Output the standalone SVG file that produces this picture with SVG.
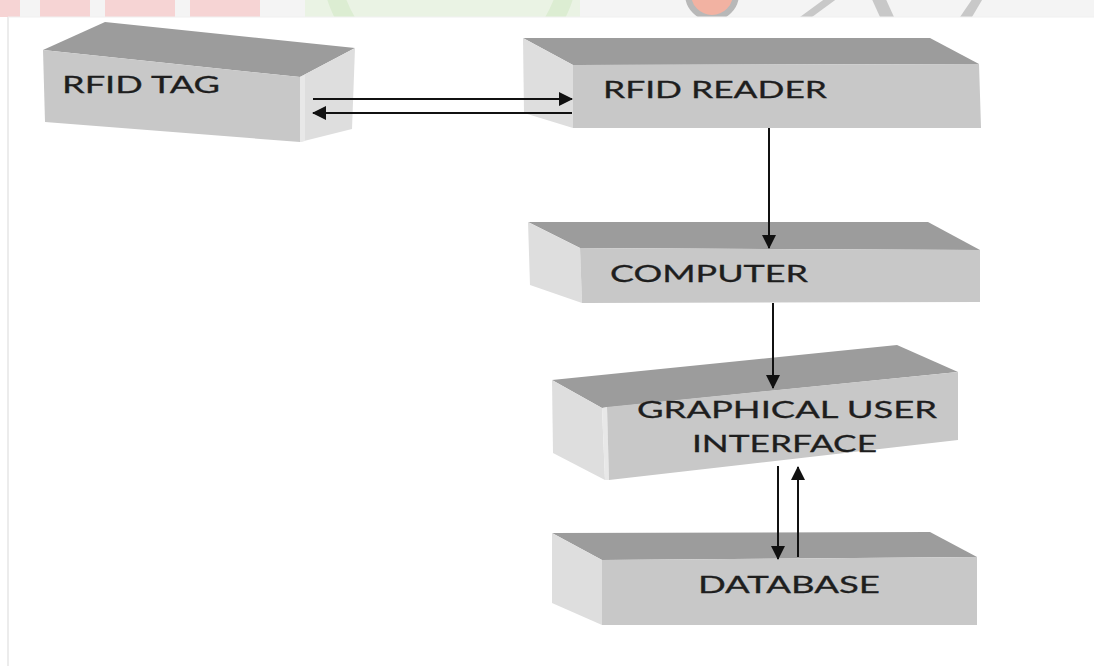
<svg xmlns="http://www.w3.org/2000/svg" width="1094" height="666" viewBox="0 0 1094 666">
<style>
.top{fill:#9c9c9c}
.front{fill:#c8c8c8}
.side{fill:#dedede}
.edge{fill:#e8e8e8}
.lbl{font-family:"Lato","Open Sans","Liberation Sans",sans-serif;font-size:24px;fill:#1e1e1e;stroke:#1e1e1e;stroke-width:0.3}
.ln{stroke:#111;stroke-width:2;fill:none}
</style>
<defs>
<marker id="ah" viewBox="0 0 14 14" refX="13" refY="7" markerWidth="14" markerHeight="14" markerUnits="userSpaceOnUse" orient="auto">
<path d="M0,0 L14,7 L0,14 Z" fill="#111"/>
</marker>
<clipPath id="band"><rect x="0" y="0" width="1094" height="17"/></clipPath>
</defs>
<rect width="1094" height="666" fill="#ffffff"/>
<g id="watermark" clip-path="url(#band)">
<rect x="0" y="0" width="1094" height="17" fill="#f4f4f4"/>
<rect x="0" y="0" width="20" height="17" fill="#f6d4d4"/>
<rect x="40" y="0" width="50" height="17" fill="#f6d4d4"/>
<rect x="105" y="0" width="70" height="17" fill="#f6d4d4"/>
<rect x="190" y="0" width="70" height="17" fill="#f6d4d4"/>
<rect x="305" y="0" width="275" height="17" fill="#eaf3e4"/>
<circle cx="450" cy="-40" r="120" fill="none" stroke="#dcedd2" stroke-width="18"/>
<circle cx="712" cy="-6" r="24" fill="#f2b2a2"/>
<circle cx="712" cy="-6" r="24" fill="none" stroke="#b8b8b8" stroke-width="6"/>
<path d="M800,17 L830,-5 L842,-5 L812,17 Z" fill="#c8c8c8"/>
<path d="M880,17 L870,-5 L884,-5 L894,17 Z" fill="#c8c8c8"/>
<path d="M960,17 L975,-5 L985,-5 L972,17 Z" fill="#c8c8c8"/>
</g>
<line x1="8" y1="17" x2="8" y2="666" stroke="#ececec" stroke-width="2"/>
<line x1="8" y1="17" x2="1094" y2="17" stroke="#f0f0f0" stroke-width="1"/>

<g id="rfid-tag">
<polygon class="top" points="43,50 105,22 355,48 300,77"/>
<polygon class="front" points="43,50 300,77 300,142 45,122"/>
<polygon class="side" points="300,77 355,48 352,129 300,142"/>
<polygon class="edge" points="300,77 305,75 305,141 300,142"/>
<text class="lbl" x="62" y="93" textLength="158" lengthAdjust="spacingAndGlyphs">RFID TAG</text>
</g>

<g id="rfid-reader">
<polygon class="top" points="523,38 930,38 979,64 573,65"/>
<polygon class="side" points="523,38 573,65 573,128 524,113"/>
<polygon class="front" points="573,65 979,64 981,128 573,128"/>
<text class="lbl" x="603" y="98" textLength="224" lengthAdjust="spacingAndGlyphs">RFID READER</text>
</g>

<g id="computer">
<polygon class="top" points="528,222 928,222 980,250 580,248"/>
<polygon class="side" points="528,222 580,248 582,303 530,285"/>
<polygon class="front" points="580,248 980,250 980,302 582,303"/>
<text class="lbl" x="610" y="282" textLength="198" lengthAdjust="spacingAndGlyphs">COMPUTER</text>
</g>

<g id="gui">
<polygon class="top" points="552,380 897,345 958,372 602,408"/>
<polygon class="side" points="552,380 602,408 605,480 553,453"/>
<polygon class="edge" points="602,408 607,407 609,480 605,480"/>
<polygon class="front" points="607,407 958,372 958,440 609,480"/>
<text class="lbl" x="637" y="418" textLength="300" lengthAdjust="spacingAndGlyphs">GRAPHICAL USER</text>
<text class="lbl" x="692" y="452" textLength="185" lengthAdjust="spacingAndGlyphs">INTERFACE</text>
</g>

<g id="database">
<polygon class="top" points="552,533 930,532 977,557 602,560"/>
<polygon class="side" points="552,533 602,560 602,625 552,603"/>
<polygon class="front" points="602,560 977,557 977,625 602,625"/>
<text class="lbl" x="698" y="593" textLength="182" lengthAdjust="spacingAndGlyphs">DATABASE</text>
</g>

<g id="connectors">
<line class="ln" x1="313" y1="99" x2="572" y2="99" marker-end="url(#ah)"/>
<line class="ln" x1="572" y1="113" x2="313" y2="113" marker-end="url(#ah)"/>
<line class="ln" x1="769" y1="128" x2="769" y2="248" marker-end="url(#ah)"/>
<line class="ln" x1="773" y1="303" x2="773" y2="388" marker-end="url(#ah)"/>
<line class="ln" x1="778" y1="466" x2="778" y2="559" marker-end="url(#ah)"/>
<line class="ln" x1="798" y1="557" x2="798" y2="467" marker-end="url(#ah)"/>
</g>
</svg>
